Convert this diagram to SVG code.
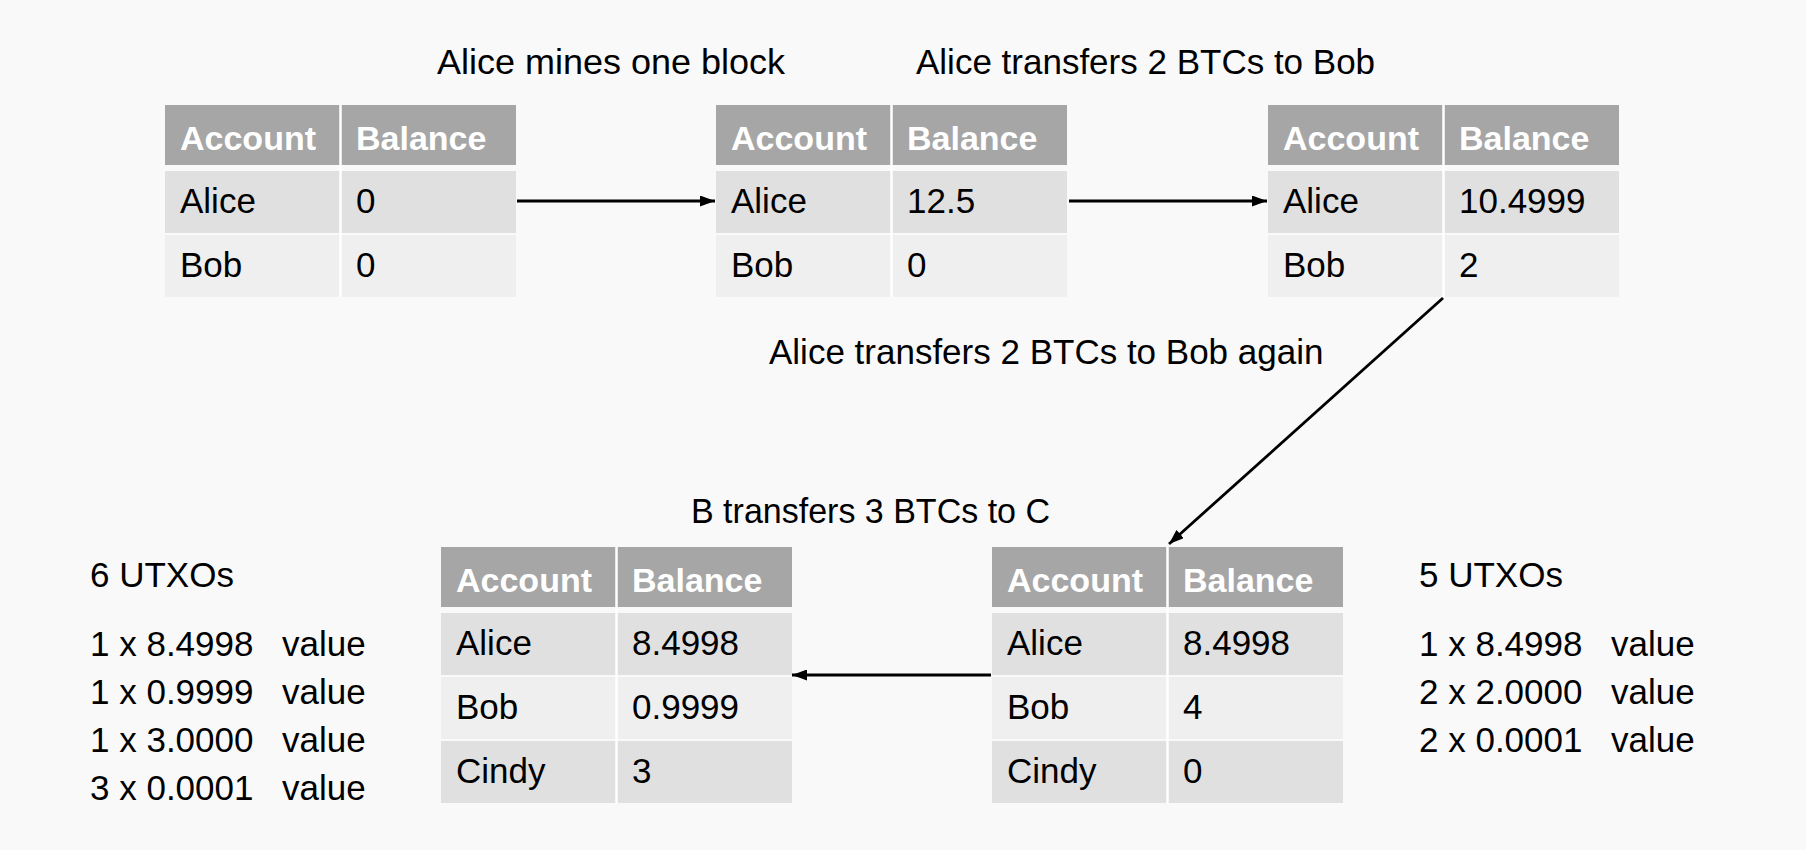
<svg xmlns="http://www.w3.org/2000/svg" width="1806" height="850" viewBox="0 0 1806 850">
<defs>
<style>
.bg{fill:#f9f9f9}
.hdr{fill:#a6a6a6}
.r1{fill:#e0e0e0}
.r2{fill:#efefef}
.sep{stroke:#ffffff;stroke-width:2.5}
text{font-family:"Liberation Sans",Arial,sans-serif}
.h{font-size:34px;font-weight:bold;fill:#ffffff}
.c{font-size:35px;fill:#000000}
.t{font-size:35px;fill:#000000}
.arr{stroke:#000000;stroke-width:2.8;fill:none;marker-end:url(#ah)}
</style>
<marker id="ah" markerUnits="userSpaceOnUse" markerWidth="15" markerHeight="11" refX="15" refY="5.5" orient="auto">
<path d="M0,0 L15,5.5 L0,11 Z" fill="#000000"/>
</marker>
</defs>
<rect class="bg" x="0" y="0" width="1806" height="850"/>

<g id="title-mine"><text class="t" x="437" y="74" textLength="348" lengthAdjust="spacingAndGlyphs">Alice mines one block</text></g>
<g id="title-transfer1"><text class="t" x="916" y="74">Alice transfers 2 BTCs to Bob</text></g>
<g id="title-transfer2"><text class="t" x="769" y="364">Alice transfers 2 BTCs to Bob again</text></g>
<g id="title-transfer3"><text class="t" x="691" y="523" textLength="359" lengthAdjust="spacingAndGlyphs">B transfers 3 BTCs to C</text></g>

<g id="table1">
<rect class="hdr" x="165" y="105" width="351" height="60"/>
<rect class="r1" x="165" y="171" width="351" height="62"/>
<rect class="r2" x="165" y="235" width="351" height="62"/>
<line class="sep" x1="340.5" y1="105" x2="340.5" y2="297"/>
<text class="h" x="180" y="150">Account</text><text class="h" x="356" y="150">Balance</text>
<text class="c" x="180" y="213">Alice</text><text class="c" x="356" y="213">0</text>
<text class="c" x="180" y="277">Bob</text><text class="c" x="356" y="277">0</text>
</g>

<g id="table2">
<rect class="hdr" x="716" y="105" width="351" height="60"/>
<rect class="r1" x="716" y="171" width="351" height="62"/>
<rect class="r2" x="716" y="235" width="351" height="62"/>
<line class="sep" x1="891.5" y1="105" x2="891.5" y2="297"/>
<text class="h" x="731" y="150">Account</text><text class="h" x="907" y="150">Balance</text>
<text class="c" x="731" y="213">Alice</text><text class="c" x="907" y="213">12.5</text>
<text class="c" x="731" y="277">Bob</text><text class="c" x="907" y="277">0</text>
</g>

<g id="table3">
<rect class="hdr" x="1268" y="105" width="351" height="60"/>
<rect class="r1" x="1268" y="171" width="351" height="62"/>
<rect class="r2" x="1268" y="235" width="351" height="62"/>
<line class="sep" x1="1443.5" y1="105" x2="1443.5" y2="297"/>
<text class="h" x="1283" y="150">Account</text><text class="h" x="1459" y="150">Balance</text>
<text class="c" x="1283" y="213">Alice</text><text class="c" x="1459" y="213">10.4999</text>
<text class="c" x="1283" y="277">Bob</text><text class="c" x="1459" y="277">2</text>
</g>

<g id="table4">
<rect class="hdr" x="992" y="547" width="351" height="60"/>
<rect class="r1" x="992" y="613" width="351" height="62"/>
<rect class="r2" x="992" y="677" width="351" height="62"/>
<rect class="r1" x="992" y="741" width="351" height="62"/>
<line class="sep" x1="1167.5" y1="547" x2="1167.5" y2="803"/>
<text class="h" x="1007" y="592">Account</text><text class="h" x="1183" y="592">Balance</text>
<text class="c" x="1007" y="655">Alice</text><text class="c" x="1183" y="655">8.4998</text>
<text class="c" x="1007" y="719">Bob</text><text class="c" x="1183" y="719">4</text>
<text class="c" x="1007" y="783">Cindy</text><text class="c" x="1183" y="783">0</text>
</g>

<g id="table5">
<rect class="hdr" x="441" y="547" width="351" height="60"/>
<rect class="r1" x="441" y="613" width="351" height="62"/>
<rect class="r2" x="441" y="677" width="351" height="62"/>
<rect class="r1" x="441" y="741" width="351" height="62"/>
<line class="sep" x1="616.5" y1="547" x2="616.5" y2="803"/>
<text class="h" x="456" y="592">Account</text><text class="h" x="632" y="592">Balance</text>
<text class="c" x="456" y="655">Alice</text><text class="c" x="632" y="655">8.4998</text>
<text class="c" x="456" y="719">Bob</text><text class="c" x="632" y="719">0.9999</text>
<text class="c" x="456" y="783">Cindy</text><text class="c" x="632" y="783">3</text>
</g>

<g id="utxo6">
<text class="t" x="90" y="587">6 UTXOs</text>
<text class="t" x="90" y="656">1 x 8.4998</text><text class="t" x="282" y="656">value</text>
<text class="t" x="90" y="704">1 x 0.9999</text><text class="t" x="282" y="704">value</text>
<text class="t" x="90" y="752">1 x 3.0000</text><text class="t" x="282" y="752">value</text>
<text class="t" x="90" y="800">3 x 0.0001</text><text class="t" x="282" y="800">value</text>
</g>

<g id="utxo5">
<text class="t" x="1419" y="587">5 UTXOs</text>
<text class="t" x="1419" y="656">1 x 8.4998</text><text class="t" x="1611" y="656">value</text>
<text class="t" x="1419" y="704">2 x 2.0000</text><text class="t" x="1611" y="704">value</text>
<text class="t" x="1419" y="752">2 x 0.0001</text><text class="t" x="1611" y="752">value</text>
</g>

<g id="connectors">
<path class="arr" d="M517,201 H715"/>
<path class="arr" d="M1069,201 H1267"/>
<path class="arr" d="M1443,298 L1169,544"/>
<path class="arr" d="M991,675 H792"/>
</g>
</svg>
